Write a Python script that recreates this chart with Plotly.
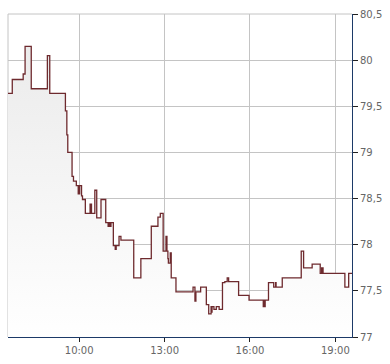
import plotly.graph_objects as go

day = "2024-03-15 "
times = ["07:30","07:39","08:02","08:06","08:19","08:53","08:58","09:31","09:34","09:36",
         "09:45","09:48","09:54","09:58","09:59","10:00","10:01","10:05","10:07","10:13",
         "10:23","10:24","10:25","10:26","10:33","10:37","10:46","10:56","11:01","11:03",
         "11:05","11:07","11:12","11:16","11:18","11:24","11:28","11:55","12:10","12:32",
         "12:46","12:51","12:57","13:03","13:05","13:07","13:08","13:12","13:14","13:24",
         "14:00","14:04","14:06","14:16","14:28","14:33","14:38","14:39","14:40","14:44",
         "14:49","14:55","15:02","15:07","15:12","15:15","15:36","15:58","16:28","16:29",
         "16:30","16:32","16:39","16:50","16:54","16:55","17:08","17:48","17:53","18:11",
         "18:28","18:31","18:32","18:33","18:34","19:20","19:28","19:35"]
prices = [79.64,79.79,79.85,80.15,79.69,80.05,79.64,79.45,79.19,79.00,
          78.74,78.69,78.64,78.55,78.64,78.55,78.64,78.53,78.49,78.34,
          78.44,78.34,78.44,78.34,78.59,78.29,78.49,78.24,78.20,78.24,
          78.20,78.24,77.99,77.95,77.99,78.09,78.05,77.64,77.85,78.20,
          78.30,78.34,77.93,78.09,77.93,77.85,77.80,77.91,77.64,77.49,
          77.54,77.39,77.49,77.54,77.35,77.25,77.33,77.27,77.33,77.30,
          77.33,77.30,77.59,77.60,77.64,77.60,77.45,77.40,77.33,77.40,
          77.33,77.40,77.59,77.54,77.59,77.54,77.64,77.93,77.75,77.79,
          77.69,77.75,77.69,77.75,77.69,77.54,77.69,77.69]
x_ticks = ["10:00", "13:00", "16:00", "19:00"]
y_ticks = [77, 77.5, 78, 78.5, 79, 79.5, 80, 80.5]

xs = [day + t for t in times]

fig = go.Figure()
fig.add_trace(go.Scatter(
    x=xs, y=prices, mode="lines", line=dict(shape="hv", color="#6e2a2e", width=1.3),
    fill="tozeroy",
    fillgradient=dict(type="vertical", start=77, stop=80.5,
                      colorscale=[[0, "#ffffff"], [1, "#e9e9e9"]]),
    hoverinfo="skip", showlegend=False))

fig.update_layout(
    width=390, height=364, margin=dict(l=8, r=38, t=11, b=26),
    paper_bgcolor="white", plot_bgcolor="white",
    separators=", ",
    font=dict(family="DejaVu Sans", size=10, color="#666666"),
    xaxis=dict(range=[day + "07:30", day + "19:35"], type="date",
               tickvals=[day + t for t in x_ticks], ticktext=x_ticks,
               showgrid=True, gridcolor="#c4c4c4", gridwidth=1,
               showline=True, linecolor="#1c3a68", linewidth=1,
               ticks="outside", ticklen=4, tickcolor="#222222",
               zeroline=False, fixedrange=True),
    yaxis=dict(range=[77, 80.5], side="right", tickvals=y_ticks,
               showgrid=True, gridcolor="#c4c4c4", gridwidth=1,
               showline=True, linecolor="#1c3a68", linewidth=1,
               ticks="outside", ticklen=5, tickcolor="#222222",
               zeroline=False, fixedrange=True),
    shapes=[
        dict(type="line", xref="paper", yref="paper", x0=0, x1=0, y0=0, y1=1,
             line=dict(color="#c4c4c4", width=1), layer="below"),
        dict(type="line", xref="paper", yref="paper", x0=0, x1=1, y0=1, y1=1,
             line=dict(color="#c4c4c4", width=1), layer="below"),
    ],
)

fig.write_html("out.html")
